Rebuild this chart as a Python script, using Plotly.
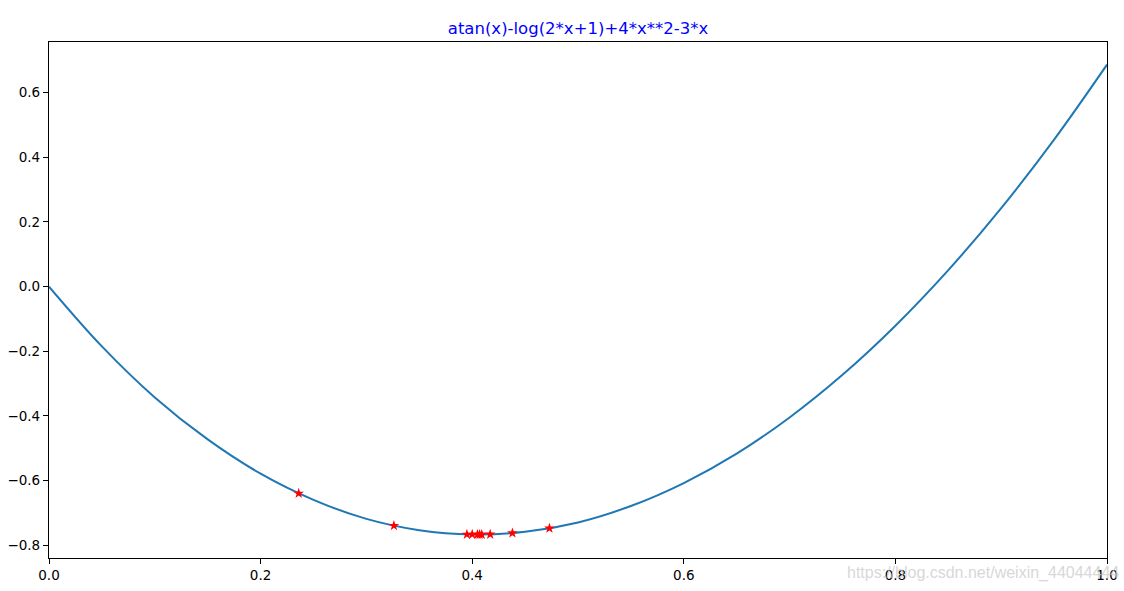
import plotly.graph_objects as go

# Curve values
curve_x = [0.0, 0.05, 0.1, 0.15, 0.2, 0.25, 0.3, 0.35, 0.4, 0.45, 0.5,
           0.55, 0.6, 0.65, 0.7, 0.75, 0.8, 0.85, 0.9, 0.95, 1.0]
curve_y = [0.0, -0.185, -0.343, -0.473, -0.579, -0.660, -0.719, -0.754, -0.767, -0.759, -0.730,
           -0.679, -0.608, -0.517, -0.405, -0.273, -0.121, 0.051, 0.243, 0.455, 0.687]

# Search points (red stars)
pts_x = [0.236, 0.326, 0.395, 0.400, 0.405, 0.407, 0.409, 0.417, 0.438, 0.473]
pts_y = [-0.640, -0.740, -0.767, -0.767, -0.7675, -0.7675, -0.7674, -0.7668, -0.7626, -0.7481]

title_text = "atan(x)-log(2*x+1)+4*x**2-3*x"
watermark = "https://blog.csdn.net/weixin_44044444"
x_ticks = [0.0, 0.2, 0.4, 0.6, 0.8, 1.0]
y_ticks = [-0.8, -0.6, -0.4, -0.2, 0.0, 0.2, 0.4, 0.6]

fig = go.Figure()
fig.add_trace(go.Scatter(x=curve_x, y=curve_y, mode="lines",
                         line=dict(color="#1f77b4", width=2, shape="spline", smoothing=1.0),
                         showlegend=False, hoverinfo="skip"))
fig.add_trace(go.Scatter(x=pts_x, y=pts_y, mode="markers",
                         marker=dict(symbol="star", size=8, color="red", line=dict(width=0)),
                         showlegend=False))

font_family = "DejaVu Sans"
fig.update_layout(
    width=1124, height=591,
    margin=dict(l=49, r=17, t=42, b=33, autoexpand=False),
    paper_bgcolor="white", plot_bgcolor="white",
    font=dict(family=font_family, size=13.5, color="black"),
    title=dict(text=title_text, x=0.5, xref="paper", xanchor="center",
               y=1 - 28 / 591, yanchor="middle",
               font=dict(family=font_family, size=16.5, color="blue")),
    xaxis=dict(range=[0, 1], tickvals=x_ticks, ticktext=[f"{v:.1f}" for v in x_ticks],
               automargin=False,
               showgrid=False, zeroline=False, showline=True, linecolor="black", linewidth=1.2,
               mirror=True, ticks="outside", ticklen=5, tickcolor="black", tickwidth=1),
    yaxis=dict(range=[-0.840, 0.757], tickvals=y_ticks,
               ticktext=[f"{v:.1f}".replace("-", "\u2212") for v in y_ticks],
               automargin=False,
               showgrid=False, zeroline=False, showline=True, linecolor="black", linewidth=1.2,
               mirror=True, ticks="outside", ticklen=5, tickcolor="black", tickwidth=1),
    annotations=[dict(text=watermark, xref="paper", yref="paper",
                      x=(845 - 49) / 1058, y=-(573 - 558) / 516, xanchor="left", yanchor="middle",
                      showarrow=False,
                      font=dict(family="Liberation Sans", size=16, color="rgba(205,205,205,0.8)"))],
)

fig.write_html("out.html", config={"displayModeBar": False},
               post_script="document.body.style.margin='0';document.body.style.overflow='hidden';")
